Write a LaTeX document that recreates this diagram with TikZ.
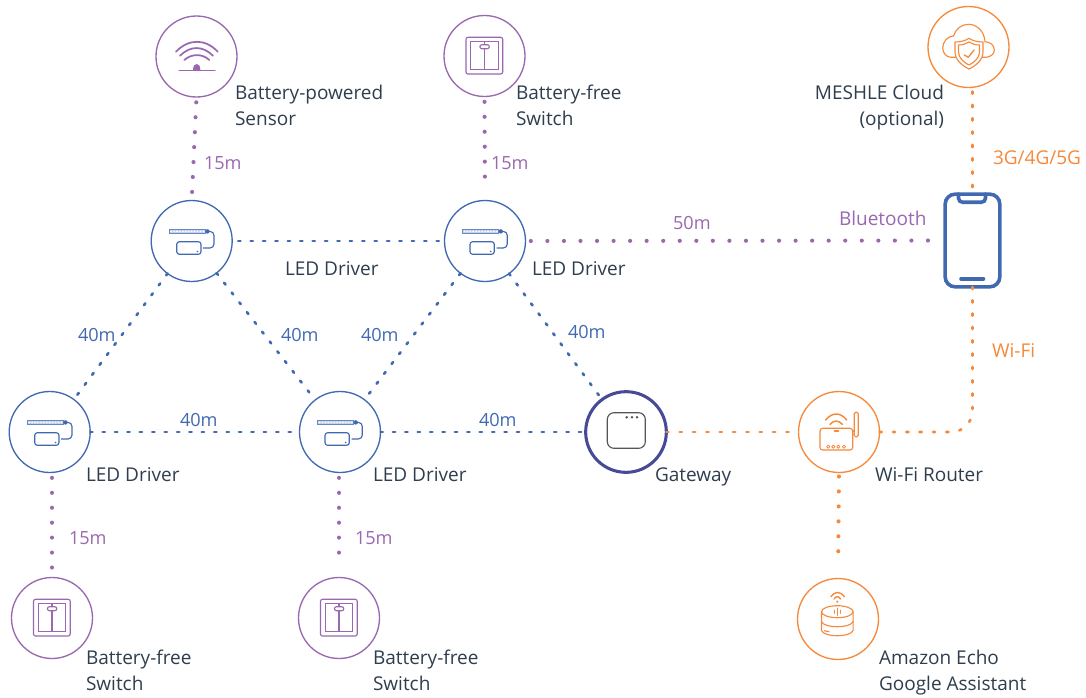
\documentclass[tikz,border=0pt]{standalone}
\usepackage{fontspec}
\setmainfont{Open Sans}
\definecolor{cpurple}{HTML}{9A68B0}
\definecolor{cblue}{HTML}{4169B2}
\definecolor{corange}{HTML}{F58A3C}
\definecolor{cindigo}{HTML}{474A96}
\definecolor{ctext}{HTML}{2F3E4E}
\definecolor{cgrey}{HTML}{555555}
\tikzset{
  x=0.75pt,y=-0.75pt,
  ring/.style={circle,draw,line width=1pt,minimum size=60.75pt,inner sep=0pt,outer sep=0pt},
  txt/.style={font=\fontsize{14.25}{19.5}\selectfont,text=ctext,inner sep=0pt,outer sep=0pt,align=left,anchor=north west},
  plbl/.style={txt,text=cpurple},
  dist/.style={font=\fontsize{13.6}{19.5}\selectfont},
  blbl/.style={txt,text=cblue,dist},
  olbl/.style={txt,text=corange},
  dotp/.style={draw=cpurple,line width=3.1pt,line cap=round,dash pattern=on 0.01pt off 11.2pt},
  dotph/.style={dotp,dash pattern=on 0.01pt off 12.4pt},
  doto/.style={dotp,draw=corange},
  dashb/.style={draw=cblue,line width=2pt,line cap=round,dash pattern=on 1.7pt off 7.6pt},
  dasho/.style={draw=corange,line width=2pt,line cap=round,dash pattern=on 1.7pt off 8.3pt},
  thin1/.style={line width=0.85pt},
  ledicon/.pic={
    \fill[cblue!30] (-22.4,-12) rectangle (13.3,-7.3);
    \draw[cblue!80,line width=0.4pt] (-22.4,-12) rectangle (13.3,-7.3);
    \foreach \i in {0,...,11}{\fill[white] (-20.6+\i*2.95,-9.65) circle (0.9);}
    \fill[cblue] (15.8,-9.6) circle (2.2);
    \draw[cblue,thin1,rounded corners=3pt] (17.5,-9.6) -- (22.3,-9.6) -- (22.3,7) -- (11.5,7);
    \draw[cblue,thin1,rounded corners=2pt] (-15,0.7) rectangle (9.3,13.3);
    \fill[cblue] (5.8,10.5) circle (0.9);
  },
  switchicon/.pic={
    \draw[cpurple,thin1,rounded corners=1.5pt] (-18.5,-18.7) rectangle (18.2,18);
    \draw[cpurple,thin1] (-13.8,-14.7) rectangle (13.8,13.3);
    \draw[cpurple,thin1] (0,-14.7) -- (0,13.3);
    \draw[cpurple,thin1,fill=white,rounded corners=1.5pt] (-4.6,-11.3) rectangle (4.8,-7.3);
  },
}
\begin{document}
\begin{tikzpicture}
\useasboundingbox (0,0) rectangle (1086,697);
\fill[white] (0,0) rectangle (1086,697);
% circles
\node[ring,draw=cpurple] (sensor) at (196.5,56.5) {};
\node[ring,draw=cpurple] (swtop) at (484.5,56) {};
\node[ring,draw=corange] (cloud) at (968.5,47) {};
\node[ring,draw=cblue] (leda) at (191.7,241) {};
\node[ring,draw=cblue] (ledb) at (485,241) {};
\node[ring,draw=cblue] (ledc) at (49.7,432) {};
\node[ring,draw=cblue] (ledd) at (340,432) {};
\node[ring,draw=cindigo,line width=2.3pt,minimum size=60.5pt] (gw) at (626,432) {};
\node[ring,draw=corange] (router) at (839,432) {};
\node[ring,draw=corange] (echo) at (838,619) {};
\node[ring,draw=cpurple] (swbl) at (52,618) {};
\node[ring,draw=cpurple] (swbr) at (339,618) {};
\node[draw=cblue,line width=2.7pt,rounded corners=7.5pt,minimum width=41pt,minimum height=69.5pt,inner sep=0pt,outer sep=0pt] (phone) at (972.5,240.5) {};
% connectors
\draw[dotp,shorten <=4pt,shorten >=4pt] (sensor.south) -- (leda.north);
\draw[dotp,shorten <=4pt,shorten >=7pt] (swtop.south) -- (ledb.north);
\draw[dotph,shorten <=4pt,shorten >=8pt] (ledb.east) -- (phone.west);
\draw[dashb,shorten <=4.5pt] (leda.east) -- (ledb.west);
\draw[dashb,shorten >=1pt] (leda) -- (ledc);
\draw[dashb] (leda) -- (ledd);
\draw[dashb] (ledb) -- (ledd);
\draw[dashb] (ledb) -- (gw);
\draw[dashb] (ledc.east) -- (ledd.west);
\draw[dashb] (ledd.east) -- (gw.west);
\draw[dasho] (gw.east) -- (router.west);
\coordinate (turn) at (phone.south |- router.east);
\draw[dasho,rounded corners=16pt] (router.east) -- (turn) -- (phone.south);
\coordinate (cloudfoot) at (phone.north |- cloud.south);
\draw[dasho,shorten <=3pt,shorten >=3pt] (cloudfoot) -- (phone.north);
\draw[doto,shorten <=3pt,shorten >=12pt] (router.south) -- (echo.north);
\draw[dotp,shorten <=4pt,shorten >=6pt] (ledc.south -| swbl.north) -- (swbl.north);
\draw[dotp,shorten <=4pt,shorten >=12pt] (ledd.south -| swbr.north) -- (swbr.north);
% sensor icon
\begin{scope}[shift={(sensor.center)},cpurple,line width=1.3pt,line cap=round]
\draw (-20.5,-4.8) .. controls (-8,-18) and (9,-18) .. (21.2,-4.8);
\draw (-16.5,-0.8) .. controls (-6,-11) and (6,-11) .. (16.5,-0.8);
\draw (-12.2,3.5) .. controls (-5,-3) and (6,-3) .. (12.8,3.5);
\draw[line width=1.1pt] (-17.2,14.2) -- (18.5,14.2);
\fill (-3.5,14.2) .. controls (-3.5,9) and (-1.5,7.5) .. (0.2,7.5) .. controls (2,7.5) and (3.9,9) .. (3.9,14.2) -- cycle;
\end{scope}
% switches
\pic at (swtop.center) {switchicon};
\pic at (swbl.center) {switchicon};
\pic at (swbr.center) {switchicon};
% led icons
\pic at (leda.center) {ledicon};
\pic at (ledb.center) {ledicon};
\pic at (ledc.center) {ledicon};
\pic at (ledd.center) {ledicon};
% cloud icon
\begin{scope}[shift={(cloud.center)},corange,thin1,line cap=round,line join=round]
\draw (-13,10.3) -- (-17.5,10.3) .. controls (-22,10.3) and (-25.8,6) .. (-25.8,1) .. controls (-25.8,-5) and (-21,-11) .. (-15,-11) .. controls (-13,-18) and (-7,-22.7) .. (0,-22.7) .. controls (9,-22.7) and (16,-15) .. (16.5,-5.3) .. controls (21.5,-5) and (25.8,-2) .. (25.8,3) .. controls (25.8,7) and (22,10.3) .. (17,10.3) -- (14,10.3);
\draw (0.5,-8.7) .. controls (-3,-6.3) and (-8,-5) .. (-13.5,-5) -- (-13.5,5) .. controls (-13.5,13) and (-6,19) .. (0.5,22) .. controls (7,19) and (14.5,13) .. (14.5,5) -- (14.5,-5) .. controls (9,-5) and (4,-6.3) .. cycle;
\draw (0.5,-5) .. controls (-2.5,-3) and (-6,-2) .. (-10,-2) -- (-10,5) .. controls (-10,11) and (-4.5,15.5) .. (0.5,18) .. controls (5.5,15.5) and (11,11) .. (11,5) -- (11,-2) .. controls (7,-2) and (3.5,-3) .. cycle;
\draw[line width=1pt] (-4.2,8) -- (-0.2,10.3) -- (5.5,3);
\end{scope}
% phone details
\draw[cblue,line width=2.7pt,line cap=round,rounded corners=3pt] (958.5,194) -- (958.5,202.2) -- (985.5,202.2) -- (985.5,194);
\draw[cblue,line width=2.7pt,line cap=round] (961,278.7) -- (983.5,278.7);
% gateway icon
\draw[cgrey,thin1,rounded corners=5pt] (607.3,412.7) rectangle (645.3,448.3);
\fill[cgrey] (626.7,417.3) circle (1.4) (632,417.3) circle (1.4) (637,417.3) circle (1.4);
% router icon
\begin{scope}[shift={(router.center)},corange,thin1,line cap=round,line join=round]
\draw[rounded corners=2pt] (-19,-3.7) rectangle (13.7,18);
\draw[rounded corners=1pt] (15.3,-19.7) rectangle (19.3,4.7);
\draw (13.7,-1) -- (15.3,-1) (13.7,2.5) -- (15.3,2.5);
\foreach \x in {-10.7,-5.7,-0.7,5}{\draw[line width=0.6pt] (\x,14.7) circle (1.6);}
\draw[line width=1.1pt] (-13.3,-12) .. controls (-7,-20) and (1.5,-20) .. (7.7,-12);
\draw[line width=1.1pt] (-9,-7.7) .. controls (-5,-12) and (-0.5,-12) .. (3.3,-7.7);
\draw[line width=1.1pt] (-4.5,-1) -- (-0.5,-1);
\end{scope}
% echo icon
\begin{scope}[shift={(echo.center)},corange,thin1,line cap=round,line join=round]
\draw (-0.7,-7.3) ellipse (15.8 and 6);
\draw (-16.5,-7.3) -- (-16.5,11.5) .. controls (-14,18.5) and (12.5,18.5) .. (15.1,11.5) -- (15.1,-7.3);
\draw (-16.5,2.5) .. controls (-14,9.5) and (12.5,9.5) .. (15.1,2.5);
\draw (-13.7,11.7) -- (-9,12.7);
\draw[line width=0.7pt] (-4,-9) -- (-4,-5.5) (-0.7,-11) -- (-0.7,-3.5) (2.6,-9) -- (2.6,-5.5);
\draw[line width=1.05pt] (-7,-22.3) .. controls (-3,-28) and (2.3,-28) .. (6.3,-22.3);
\draw[line width=1.05pt] (-4,-20) .. controls (-2,-23) and (0.7,-23) .. (2.7,-20);
\fill (-0.7,-17.3) circle (1.2);
\end{scope}
% labels
\node[txt] (t1) at (235,85) {Battery-powered\\Sensor};
\node[txt] (t2) at (516,85) {Battery-free\\Switch};
\node[txt,align=right,anchor=north east] (t3) at (944,85) {MESHLE Cloud\\(optional)};
\node[txt] (t4) at (285,262) {LED Driver};
\node[txt] (t5) at (532,262) {LED Driver};
\node[txt] (t6) at (86,468) {LED Driver};
\node[txt] (t7) at (373,468) {LED Driver};
\node[txt] (t8) at (655,468) {Gateway};
\node[txt] (t9) at (875,468) {Wi-Fi Router};
\node[txt] (t10) at (86,650) {Battery-free\\Switch};
\node[txt] (t11) at (373,650) {Battery-free\\Switch};
\node[txt] (t12) at (879,650) {Amazon Echo\\Google Assistant};
\node[plbl,dist] (p1) at (204,157) {15m};
\node[plbl,dist] (p2) at (491,157) {15m};
\node[plbl,dist] (p3) at (69,532) {15m};
\node[plbl,dist] (p4) at (355,532) {15m};
\node[plbl,dist] (p5) at (673,216) {50m};
\node[plbl] (p6) at (839,211) {Bluetooth};
\node[olbl] (o1) at (993,151) {3G/4G/5G};
\node[olbl] (o2) at (992,344) {Wi-Fi};
\node[blbl] (b1) at (78,328) {40m};
\node[blbl] (b2) at (281,328) {40m};
\node[blbl] (b3) at (361,328) {40m};
\node[blbl] (b4) at (568,325) {40m};
\node[blbl] (b5) at (180,413) {40m};
\node[blbl] (b6) at (479,413) {40m};
\end{tikzpicture}
\end{document}
